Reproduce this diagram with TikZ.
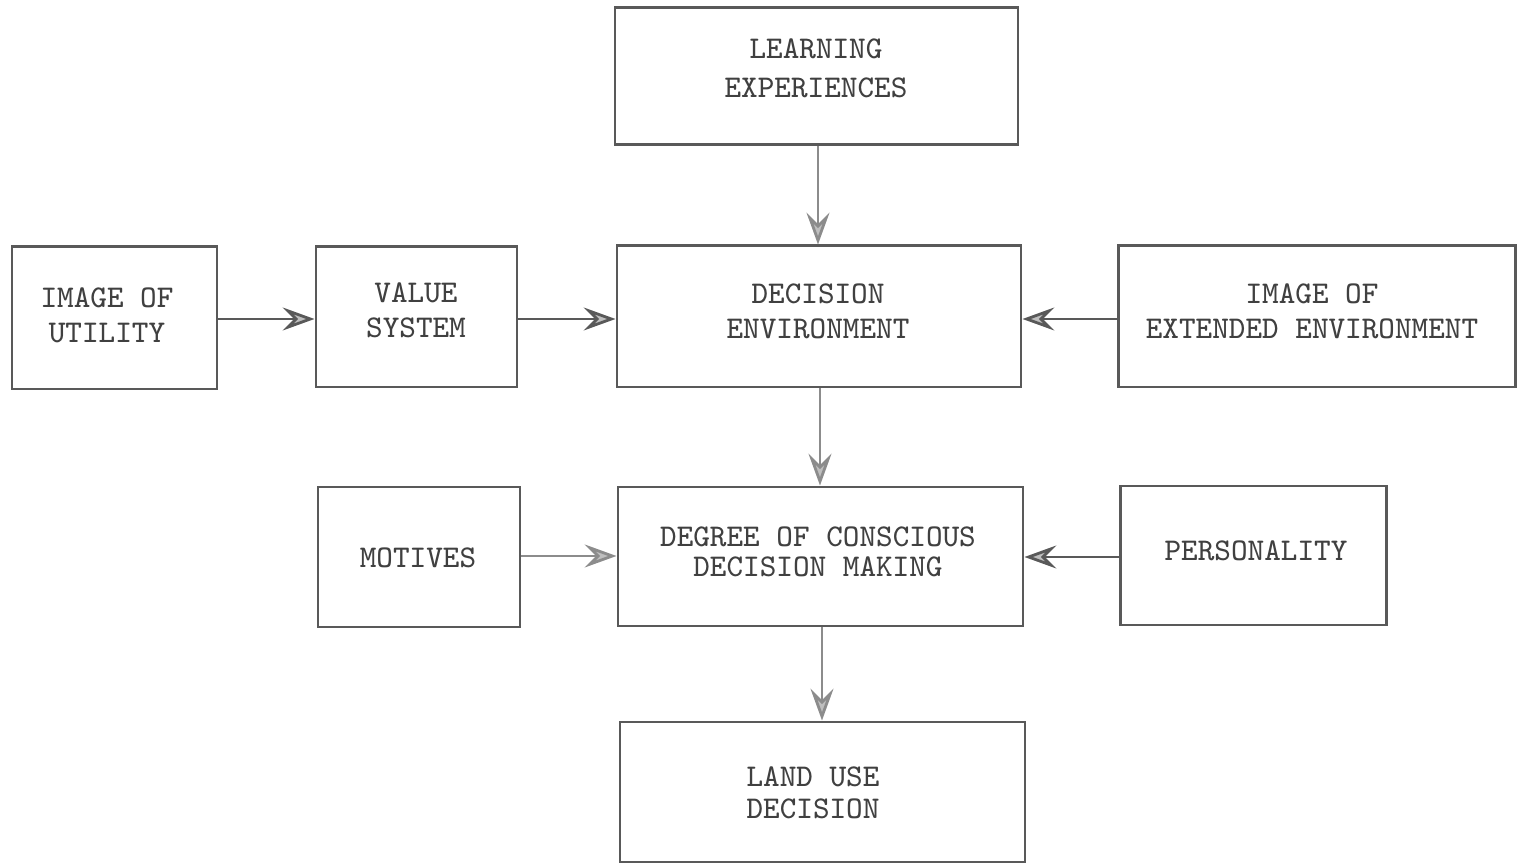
\documentclass[tikz,border=0pt]{standalone}
\usepackage{fontspec}
\usetikzlibrary{arrows.meta}
\begin{document}
\begin{tikzpicture}[x=0.01cm,y=-0.01cm,
  box/.style={draw=black!65, line width=0.85pt, rectangle, inner sep=0pt},
  txt/.style={font=\ttfamily\fontsize{9}{10}\selectfont, text=black!75, align=center, inner sep=0pt},
  arr/.style={draw=black!65, line width=0.8pt,
    -{Stealth[length=9pt,width=6.5pt,inset=3.2pt,fill=black!25]}},
  arrlight/.style={arr, draw=black!45}
]
\useasboundingbox (0,0) rectangle (1517,864);

% boxes: name, centre and size in pixel units
\newcommand{\mkbox}[5]{\node[box, minimum width=#4*0.01cm, minimum height=#5*0.01cm] (#1) at (#2,#3) {};}
\mkbox{learn}{816.5}{76.5}{403}{137}
\mkbox{util}{114.5}{318}{205}{142}
\mkbox{value}{416.5}{317}{201}{140}
\mkbox{env}{819}{316.5}{404}{141}
\mkbox{ext}{1316.5}{316.5}{397}{141}
\mkbox{motive}{419}{557}{202}{140}
\mkbox{degree}{820.5}{556.5}{405}{139}
\mkbox{person}{1253}{555.5}{266}{139}
\mkbox{land}{822.5}{792}{405}{140}

% texts
\node[txt] (learn-t) at (816,68.5) {LEARNING\\[1.2pt]EXPERIENCES};
\node[txt] (util-t) at (107,315) {IMAGE OF\\[0pt]UTILITY};
\node[txt] (value-t) at (416,310) {VALUE\\[0pt]SYSTEM};
\node[txt] (env-t) at (818,311) {DECISION\\[0pt]ENVIRONMENT};
\node[txt] (ext-t) at (1312,311.5) {IMAGE OF\\[0pt]EXTENDED ENVIRONMENT};
\node[txt] (motive-t) at (418,558) {MOTIVES};
\node[txt] (degree-t) at (818,552) {DEGREE OF CONSCIOUS\\[-1.5pt]DECISION MAKING};
\node[txt] (person-t) at (1256,551) {PERSONALITY};
\node[txt] (land-t) at (813,792.5) {LAND USE\\[-1pt]DECISION};

% connectors
\draw[arrlight] (learn.south -| 818,0) -- (env.north -| 818,0);
\draw[arr] (util.east |- 0,319) -- (value.west |- 0,319);
\draw[arr] (value.east |- 0,319) -- (env.west |- 0,319);
\draw[arr] (ext.west |- 0,319) -- (env.east |- 0,319);
\draw[arrlight] (env.south -| 820,0) -- (degree.north -| 820,0);
\draw[arrlight] (motive.east |- 0,556) -- (degree.west |- 0,556);
\draw[arr] (person.west |- 0,557) -- (degree.east |- 0,557);
\draw[arrlight] (degree.south -| 822,0) -- (land.north -| 822,0);
\end{tikzpicture}
\end{document}
